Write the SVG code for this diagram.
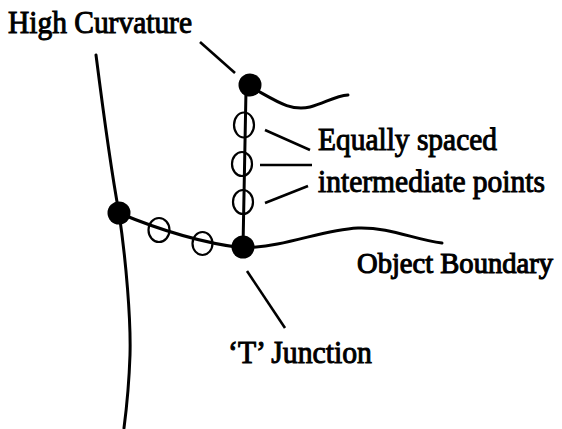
<svg xmlns="http://www.w3.org/2000/svg" width="562" height="429" viewBox="0 0 562 429">
<style>
.ln{fill:none;stroke:#000;stroke-width:3;stroke-linecap:round}
.ld{fill:none;stroke:#000;stroke-width:2.6}
.dot{fill:#000}
.oc{fill:none;stroke:#000;stroke-width:2.2}
.t{font-family:"Liberation Serif","Times New Roman",serif;font-size:31px;fill:#000;stroke:#000;stroke-width:1}
.s{font-size:29px;stroke-width:1.1}
</style>
<rect width="562" height="429" fill="#fff"/>
<g id="connectors">
<path class="ln" d="M96,55 C103,110 112,175 119,213 C126,260 131,320 130,355 C129,385 127,405 124,428"/>
<path class="ln" d="M249,86 C275,100 290,112 310,107 C325,103 335,96 348,95"/>
<path class="ln" d="M246,90 L243,247"/>
<path class="ln" d="M119,213 C150,226 195,242 243,248"/>
<path class="ln" d="M243,248 C290,246 320,230 358,228 C390,227 415,240 442,243"/>
<path class="ld" d="M200,42 L235,73"/>
<path class="ld" d="M265,130 L310,150"/>
<path class="ld" d="M260,165 L312,165"/>
<path class="ld" d="M265,203 L308,186"/>
<path class="ld" d="M247,271 L285,328"/>
</g>
<g id="high-curvature-point"><circle class="dot" cx="250" cy="85" r="11.5"/></g>
<g id="t-junction-point"><circle class="dot" cx="243" cy="247" r="11.5"/></g>
<g id="left-point"><circle class="dot" cx="119" cy="213" r="11.5"/></g>
<g id="intermediate-points">
<ellipse class="oc" cx="244" cy="125" rx="10" ry="12.5"/>
<ellipse class="oc" cx="242" cy="164" rx="10" ry="12"/>
<ellipse class="oc" cx="243" cy="202" rx="10" ry="12"/>
<ellipse class="oc" cx="159" cy="230" rx="10.5" ry="12"/>
<ellipse class="oc" cx="202.5" cy="243.5" rx="10" ry="11.5"/>
</g>
<g id="labels">
<text class="t" x="8" y="33" textLength="184" lengthAdjust="spacingAndGlyphs">High Curvature</text>
<text class="t" x="318" y="150" textLength="179" lengthAdjust="spacingAndGlyphs">Equally spaced</text>
<text class="t" x="318" y="192" textLength="227" lengthAdjust="spacingAndGlyphs">intermediate points</text>
<text class="t s" x="357" y="273" textLength="196" lengthAdjust="spacingAndGlyphs">Object Boundary</text>
<text class="t" x="228" y="363" textLength="144" lengthAdjust="spacingAndGlyphs">‘T’ Junction</text>
</g>
</svg>
